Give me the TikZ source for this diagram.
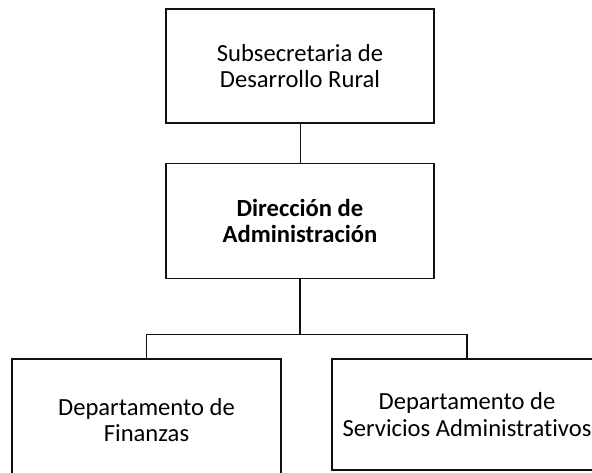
\documentclass[tikz,border=0pt]{standalone}
\usepackage{fontspec}
\setmainfont{Carlito}[Ligatures=NoCommon]
\usepackage{xcolor}
\usepackage{tikz}
\usetikzlibrary{positioning,calc}
\definecolor{ink}{HTML}{111111}
\tikzset{
  every node/.style={font=\fontsize{21}{22.6}\selectfont},
  unit/.style={
    rectangle,
    draw=ink, line width=1.4pt,
    minimum width=8.04cm, minimum height=3.42cm,
    align=center, inner sep=0pt
  },
  link/.style={
    draw=ink, line width=1.1pt
  },
}

\begin{document}
\begin{tikzpicture}
  \useasboundingbox (0,0) rectangle (17.76,-14.16);
  \clip (0,0) rectangle (17.76,-14.16);
  \node[unit] (sub) at (9,-1.98) {Subsecretaria de\\Desarrollo Rural};
  \node[unit, minimum height=3.45cm, below=1.17cm of sub] (dir) {\textbf{Dirección de}\\\textbf{Administración}};
  \node[unit, minimum width=8.07cm, minimum height=3.66cm, anchor=north] (fin) at (4.395,-10.74) {Departamento de\\Finanzas};
  \node[unit, minimum width=8.1cm, minimum height=3.33cm, anchor=north] (serv) at (14.01,-10.74) {Departamento de\\Servicios Administrativos};
  \coordinate (bus) at ($(dir.south)+(0,-1.65)$);

  \draw[link, line width=0.8pt] (sub) -- (dir);
  \draw[link] (dir.south) -- (bus);
  \draw[link] (fin.north) |- (bus) -| (serv.north);
\end{tikzpicture}
\end{document}
